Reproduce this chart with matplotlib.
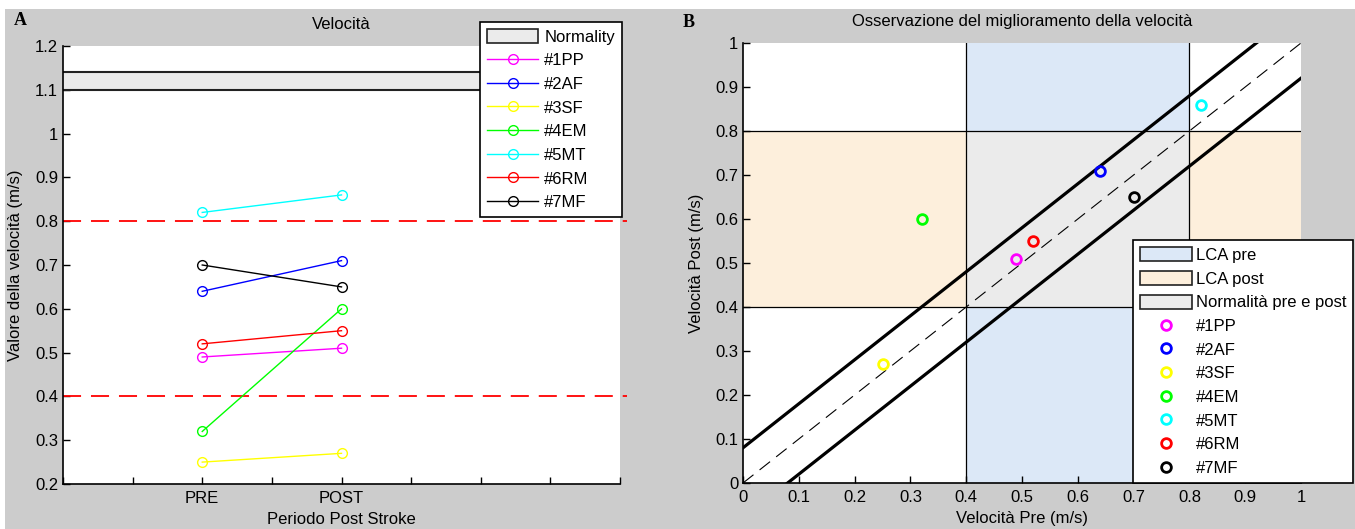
import matplotlib
matplotlib.use('Agg')
import matplotlib.pyplot as plt
from matplotlib.patches import Rectangle, Patch
from matplotlib.lines import Line2D
import numpy as np

plt.rcParams['font.family'] = ['Liberation Sans', 'DejaVu Sans']
plt.rcParams['font.size'] = 12

# data
subjects = ['#1PP', '#2AF', '#3SF', '#4EM', '#5MT', '#6RM', '#7MF']
colors = ['#ff00ff', '#0000ff', '#ffff00', '#00ff00', '#00ffff', '#ff0000', '#000000']
pre = [0.49, 0.64, 0.25, 0.32, 0.82, 0.52, 0.70]
post = [0.51, 0.71, 0.27, 0.60, 0.86, 0.55, 0.65]
periods = ['PRE', 'POST']
period_pos = [2, 4]
normality = [1.10, 1.14]
lca_limits = [0.4, 0.8]
band = 0.08

W, H = 1355, 529
fig = plt.figure(figsize=(W / 100, H / 100), dpi=100, facecolor='white')
# grey MATLAB-like background, with a thin white strip at top/left
fig.patches.append(Rectangle((5 / W, 0), 1, 1 - 9 / H, transform=fig.transFigure,
                             facecolor='#cccccc', edgecolor='none', zorder=-10))

def style(ax):
    for s in ['top', 'right']:
        ax.spines[s].set_visible(False)
    for s in ['left', 'bottom']:
        ax.spines[s].set_linewidth(1.2)
    ax.tick_params(direction='in', length=5, width=1, colors='black', labelsize=12)

def fmt(v):
    return ('%.1f' % v).rstrip('0').rstrip('.') if v not in (0, 1) else str(int(v))

# ---------------- panel A ----------------
axA = fig.add_axes([63 / W, 1 - 484 / H, (620 - 63) / W, (484 - 46) / H])
style(axA)
axA.set_xlim(0, 8)
axA.set_ylim(0.2, 1.2)
axA.axhspan(normality[0], normality[1], facecolor='#ebebeb', edgecolor='none', zorder=1)
for v in normality:
    axA.axhline(v, color='#222222', lw=1.5, zorder=2)
for v in lca_limits:
    axA.plot([0, 8.1], [v, v], color='red', lw=1.3, dashes=(10, 5.5), clip_on=False, zorder=2)
for s, c, a, b in zip(subjects, colors, pre, post):
    axA.plot(period_pos, [a, b], color=c, lw=1, marker='o', ms=7, mfc='none', mec=c, mew=1, zorder=3)
axA.set_xticks(np.arange(0, 9))
axA.set_xticklabels(['', '', periods[0], '', periods[1], '', '', '', ''])
yt = np.round(np.arange(0.2, 1.21, 0.1), 1)
axA.set_yticks(yt)
axA.set_yticklabels([fmt(v) for v in yt])
axA.tick_params(axis='x', pad=5)
axA.set_xlabel('Periodo Post Stroke', labelpad=4)
axA.set_ylabel('Valore della velocità (m/s)', labelpad=9)
axA.set_title('Velocità', fontsize=12, pad=12)

hA = [Patch(facecolor='#ebebeb', edgecolor='#222222', lw=1.2)]
hA += [Line2D([], [], color=c, lw=1, marker='o', ms=7, mfc='none', mec=c) for c in colors]
legA = axA.legend(hA, ['Normality'] + subjects, loc='upper right',
                  bbox_to_anchor=(622 / W, 1 - 22 / H), bbox_transform=fig.transFigure,
                  fancybox=False, framealpha=1, edgecolor='black', handlelength=3.1,
                  handleheight=0.9, labelspacing=0.48, borderpad=0.42, handletextpad=0.35,
                  borderaxespad=0)
legA.get_frame().set_linewidth(1.2)
legA.set_zorder(10)

# ---------------- panel B ----------------
axB = fig.add_axes([743 / W, 1 - 483 / H, (1301 - 743) / W, (483 - 43) / H])
style(axB)
axB.set_xlim(0, 1)
axB.set_ylim(0, 1)
lo, hi = lca_limits
axB.add_patch(Rectangle((lo, 0), hi - lo, 1, facecolor='#dce8f7', edgecolor='none', zorder=0))
axB.add_patch(Rectangle((0, lo), 1, hi - lo, facecolor='#fdefdc', edgecolor='none', zorder=0))
axB.add_patch(Rectangle((lo, lo), hi - lo, hi - lo, facecolor='#ebebeb', edgecolor='none', zorder=0))
for v in lca_limits:
    axB.axvline(v, color='black', lw=0.9, zorder=1)
    axB.axhline(v, color='black', lw=0.9, zorder=1)
xx = np.array([0, 1])
axB.plot(xx, xx, color='black', lw=0.8, dashes=(12, 7), zorder=2)
axB.plot(xx, xx + band, color='black', lw=2.3, zorder=2)
axB.plot(xx, xx - band, color='black', lw=2.3, zorder=2)
for c, a, b in zip(colors, pre, post):
    axB.plot([a], [b], linestyle='none', marker='o', ms=7, mfc='none', mec=c, mew=2, zorder=3)
bt = np.round(np.arange(0, 1.01, 0.1), 1)
axB.set_xticks(bt)
axB.set_xticklabels([fmt(v) for v in bt])
axB.set_yticks(bt)
axB.set_yticklabels([fmt(v) for v in bt])
axB.tick_params(axis='x', pad=5)
axB.set_xlabel('Velocità Pre (m/s)', labelpad=4)
axB.set_ylabel('Velocità Post (m/s)', labelpad=8)
axB.set_title('Osservazione del miglioramento della velocità', fontsize=12, pad=12)

hB = [Patch(facecolor='#dce8f7', edgecolor='#222222', lw=1.2),
      Patch(facecolor='#fdefdc', edgecolor='#222222', lw=1.2),
      Patch(facecolor='#ebebeb', edgecolor='#222222', lw=1.2)]
hB += [Line2D([], [], linestyle='none', marker='o', ms=7, mfc='none', mec=c, mew=2) for c in colors]
legB = axB.legend(hB, ['LCA pre', 'LCA post', 'Normalità pre e post'] + subjects, loc='lower left',
                  bbox_to_anchor=(1133 / W, 1 - 483 / H), bbox_transform=fig.transFigure,
                  fancybox=False, framealpha=1, edgecolor='black', handlelength=3.1,
                  handleheight=0.9, labelspacing=0.48, borderpad=0.42, handletextpad=0.25,
                  borderaxespad=0)
legB.get_frame().set_linewidth(1.2)
legB.set_zorder(10)

fig.text(14 / W, 1 - 25 / H, 'A', family='Liberation Serif', fontweight='bold', fontsize=13)
fig.text(683 / W, 1 - 27 / H, 'B', family='Liberation Serif', fontweight='bold', fontsize=13)

fig.savefig('out.png', dpi=100, facecolor=fig.get_facecolor())
